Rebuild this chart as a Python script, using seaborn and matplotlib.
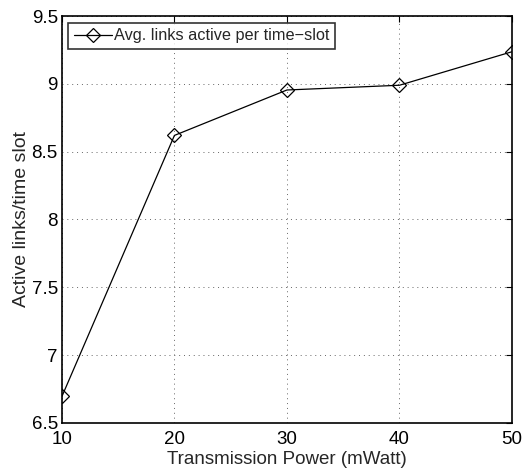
import matplotlib
matplotlib.use("Agg")
import matplotlib.pyplot as plt
import seaborn as sns
import pandas as pd

power_mw = [10, 20, 30, 40, 50]
avg_links = [6.695, 8.62, 8.955, 8.99, 9.237]
x_ticks = [10, 20, 30, 40, 50]
y_ticks = [6.5, 7, 7.5, 8, 8.5, 9, 9.5]
y_tick_labels = ["6.5", "7", "7.5", "8", "8.5", "9", "9.5"]

sns.set_theme(style="white")
plt.rcParams["font.family"] = ["Liberation Sans", "DejaVu Sans"]

df = pd.DataFrame({"power": power_mw, "links": avg_links})

fig = plt.figure(figsize=(5.25, 4.74), dpi=100)
ax = fig.add_axes([0.118, 0.108, 0.857, 0.858])

sns.lineplot(data=df, x="power", y="links", ax=ax, color="black", linewidth=0.9,
             marker="D", markersize=7.5, markerfacecolor="none", markeredgecolor="black",
             markeredgewidth=0.9, label="Avg. links active per time\u2212slot")

ax.set_xlim(10, 50)
ax.set_ylim(6.5, 9.5)
ax.set_xticks(x_ticks)
ax.set_yticks(y_ticks)
ax.set_yticklabels(y_tick_labels)
ax.grid(True, linestyle=(0, (1, 4)), color="#666666", linewidth=0.7)
ax.tick_params(direction="in", length=4, width=0.8, top=True, right=True,
               labelsize=13.5, colors="black")
ax.tick_params(axis="x", pad=6)
ax.tick_params(axis="y", pad=3)
for s in ax.spines.values():
    s.set_color("black")
    s.set_linewidth(1.2)

ax.set_xlabel("Transmission Power (mWatt)", fontsize=13.5, labelpad=2)
ax.set_ylabel("Active links/time slot", fontsize=14, labelpad=1)

leg = ax.legend(loc="upper left", fontsize=11.7, frameon=True, fancybox=False,
                borderpad=0.35, handlelength=2.3, handletextpad=0.15,
                borderaxespad=0.4)
leg.get_frame().set_edgecolor("black")
leg.get_frame().set_linewidth(1.2)

fig.savefig("out.png", dpi=100)
